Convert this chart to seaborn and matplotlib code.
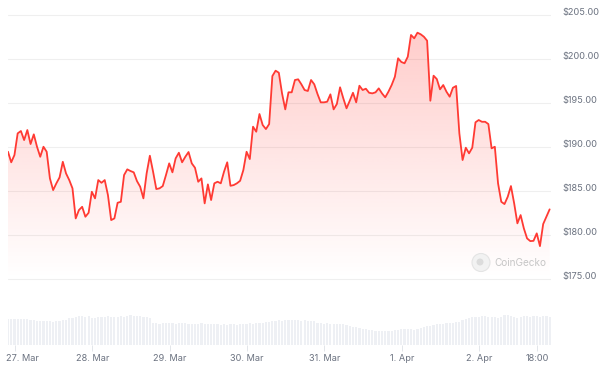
import numpy as np
import pandas as pd
import matplotlib
matplotlib.use("Agg")
import matplotlib.pyplot as plt
import matplotlib.dates as mdates
from matplotlib.patches import Circle
from matplotlib.transforms import ScaledTranslation
import seaborn as sns

# ---------------- data ----------------
start_time = "2024-03-26 21:50"

prices_part1 = [189.47, 188.27, 189.10, 191.56, 191.83, 190.80, 191.94, 190.35, 191.45, 190.04,
                188.90, 190.04, 189.47, 186.44, 185.11, 185.88, 186.56, 188.33, 187.01, 186.25,
                185.31, 181.89, 182.84, 183.21, 182.08, 182.53, 184.92, 184.17, 186.25, 185.94,
                186.25, 184.54, 181.70, 181.89, 183.67, 183.78, 186.82, 187.47, 187.28, 187.13,
                186.14, 185.49, 184.17, 187.01, 189.02, 187.20, 185.23, 185.31, 185.57, 186.82,
                188.15, 187.13, 188.72, 189.36, 188.27, 188.90, 189.44, 188.15, 187.65, 186.06]
prices_part2 = [186.44, 183.60, 185.76, 183.98, 185.88, 186.06, 185.88, 187.20, 188.27, 185.60,
                185.68, 185.88, 186.17, 187.39, 189.47, 188.64, 192.32, 191.75, 193.76, 192.51,
                192.05, 192.62, 198.08, 198.69, 198.46, 196.11, 194.29, 196.23, 196.23, 197.63,
                197.71, 197.14, 196.49, 196.38, 197.63, 197.14, 196.04, 195.09, 195.09, 195.16,
                196.00, 194.29, 194.90, 196.80, 195.55, 194.41, 195.27, 196.18, 195.09, 196.98,
                196.49, 196.64, 196.18, 196.11, 196.23, 196.68, 196.11, 195.66, 196.30, 197.06,
                198.00, 200.10]
prices_part3 = [199.68, 199.53, 200.28, 202.75, 202.37, 203.01, 202.83, 202.55, 202.10, 195.27,
                198.12, 197.74, 196.57, 197.06, 196.30, 195.73, 196.75, 196.95, 191.56, 188.53,
                189.93, 189.29, 189.93, 192.82, 193.08, 192.88, 192.88, 192.62, 189.86, 190.04,
                185.88, 183.78, 183.52, 184.35, 185.57, 183.60, 181.33, 182.27, 180.76, 179.62,
                179.31, 179.34, 180.19, 178.74, 181.25, 182.08, 182.92]

volumes_bn = [2.6, 2.6, 2.6, 2.6, 2.6, 2.6, 2.6, 2.5, 2.5,
              2.4, 2.4, 2.4, 2.4, 2.4, 2.3, 2.4, 2.4, 2.5, 2.5,
              2.7, 2.7, 2.8, 2.9, 2.9, 2.8, 2.9, 2.7, 2.7, 2.8,
              2.8, 2.8, 2.9, 2.8, 2.8, 2.8, 2.9, 2.8, 2.9, 3.0, 2.9,
              2.9, 2.9, 2.8, 2.8, 2.7,
              2.2, 2.2, 2.1, 2.2, 2.2, 2.2, 2.2, 2.1, 2.2, 2.2, 2.2, 2.1,
              2.1, 2.1, 2.1, 2.2, 2.1, 2.1, 2.1, 2.1,
              2.1, 2.0, 2.1, 2.0, 2.1, 2.1, 2.0, 2.1, 2.1,
              2.1, 2.2, 2.1, 2.2, 2.2,
              2.2, 2.3, 2.3, 2.4, 2.4, 2.5, 2.4, 2.5, 2.5,
              2.5, 2.5, 2.5, 2.4, 2.5, 2.4, 2.4, 2.4,
              2.2, 2.2, 2.1, 2.2, 2.1, 2.1, 2.1, 2.1, 2.1,
              2.0, 1.9, 1.8, 1.8, 1.7,
              1.6, 1.6, 1.5, 1.5, 1.4, 1.4, 1.4, 1.4, 1.4, 1.4, 1.5,
              1.5, 1.6, 1.6, 1.6, 1.6, 1.5, 1.6,
              1.7, 1.8, 1.9, 1.9, 2.0, 2.1, 2.1, 2.1,
              2.2, 2.2, 2.2, 2.3, 2.3,
              2.5, 2.6, 2.7, 2.8, 2.8, 2.8, 2.9, 2.9, 2.8, 2.8,
              2.8, 2.7, 2.8, 3.0, 3.0, 2.9, 2.8,
              2.7, 2.8, 2.9, 2.9, 2.8,
              2.9, 2.9, 2.8, 2.9, 2.9, 2.8]

y_ticks = [175, 180, 185, 190, 195, 200, 205]
y_tick_labels = ["$175.00", "$180.00", "$185.00", "$190.00", "$195.00", "$200.00", "$205.00"]
x_tick_times = ["2024-03-27 00:00", "2024-03-28 00:00", "2024-03-29 00:00", "2024-03-30 00:00",
                "2024-03-31 00:00", "2024-04-01 00:00", "2024-04-02 00:00", "2024-04-02 18:00"]
x_tick_labels = ["27. Mar", "28. Mar", "29. Mar", "30. Mar", "31. Mar", "1. Apr", "2. Apr", "18:00"]

prices = prices_part1 + prices_part2 + prices_part3
df = pd.DataFrame({
    "time": pd.date_range(start_time, periods=len(prices), freq="h"),
    "price": prices,
    "volume": volumes_bn,
})

# ---------------- style ----------------
sns.set_theme(style="white")
plt.rcParams["font.family"] = ["Inter", "DejaVu Sans"]

LINE = "#ff3a33"
LABEL = "#6b7280"
GRID = "#efefef"

W, H = 600, 378
fig = plt.figure(figsize=(W / 100, H / 100), dpi=100)
fig.patch.set_facecolor("white")

px_per_usd = 263.8 / 30.0
pad_usd = 0.2
top_px = 15.2 - pad_usd * px_per_usd
bot_px = 279.0 + pad_usd * px_per_usd
left_px, right_px = 8, 551

ax = fig.add_axes([left_px / W, 1 - bot_px / H, (right_px - left_px) / W, (bot_px - top_px) / H])
axv = fig.add_axes([left_px / W, 1 - 345 / H, (right_px - left_px) / W, 30 / H])

t0 = df["time"].iloc[0]
x_lo = t0
x_hi = t0 + pd.Timedelta(hours=(right_px - left_px) / 3.224)

# gradient area fill
poly = ax.fill_between(df["time"], df["price"], 175, color="none", lw=0)
n = 256
grad = np.zeros((n, 1, 4))
grad[:, 0, 0] = 1.0
grad[:, 0, 1] = 58 / 255
grad[:, 0, 2] = 51 / 255
grad[:, 0, 3] = np.linspace(0.26, 0.0, n)
xl, xh = mdates.date2num(x_lo), mdates.date2num(x_hi)
im = ax.imshow(grad, extent=[xl, xh, 175, 203.5], aspect="auto", origin="upper", zorder=1)
im.set_clip_path(poly.get_paths()[0], transform=ax.transData)

sns.lineplot(data=df, x="time", y="price", ax=ax, color=LINE, linewidth=1.3, zorder=3)

ax.set_xlim(x_lo, x_hi)
ax.set_ylim(175 - pad_usd, 205 + pad_usd)
ax.set_xlabel("")
ax.set_ylabel("")
ax.set_xticks([])
ax.yaxis.tick_right()
ax.set_yticks(y_ticks)
ax.set_yticklabels(y_tick_labels)
ax.tick_params(axis="y", length=0, pad=8, labelsize=6.6, labelcolor=LABEL)
for lbl in ax.get_yticklabels():
    lbl.set_verticalalignment("baseline")
ax.yaxis.grid(True, color=GRID, linewidth=0.8)
ax.xaxis.grid(False)
for s in ax.spines.values():
    s.set_visible(False)
ax.set_facecolor("none")

# volume bars
axv.bar(df["time"], df["volume"], width=0.68 / 24, color="#eef0f4", linewidth=0)
axv.set_xlim(x_lo, x_hi)
axv.set_ylim(0, 3.05)
axv.set_yticks([])
axv.set_xticks(pd.to_datetime(x_tick_times))
axv.set_xticklabels(x_tick_labels)
axv.tick_params(axis="x", length=4, width=0.7, color="#e3e6ea", pad=2.2,
                labelsize=6.6, labelcolor=LABEL, bottom=True)
for s in axv.spines.values():
    s.set_visible(False)
axv.set_facecolor("none")
first = axv.xaxis.get_major_ticks()[0].label1
first.set_transform(first.get_transform() + ScaledTranslation(7 / 100, 0, fig.dpi_scale_trans))

# watermark
fig.add_artist(Circle((4.81, (H - 262.5) / 100), 0.09, transform=fig.dpi_scale_trans,
                      facecolor="#f2f2f2", edgecolor="#e4e4e4", linewidth=0.8, zorder=5))
fig.add_artist(Circle((4.80, (H - 262.0) / 100), 0.035, transform=fig.dpi_scale_trans,
                      facecolor="#dcdcdc", edgecolor="none", zorder=6))
fig.text(494 / W, 1 - 262.5 / H, "CoinGecko", color="#c6c6c6", fontsize=7.2,
         ha="left", va="center", zorder=6)

fig.savefig("out.png", dpi=100, facecolor="white")
